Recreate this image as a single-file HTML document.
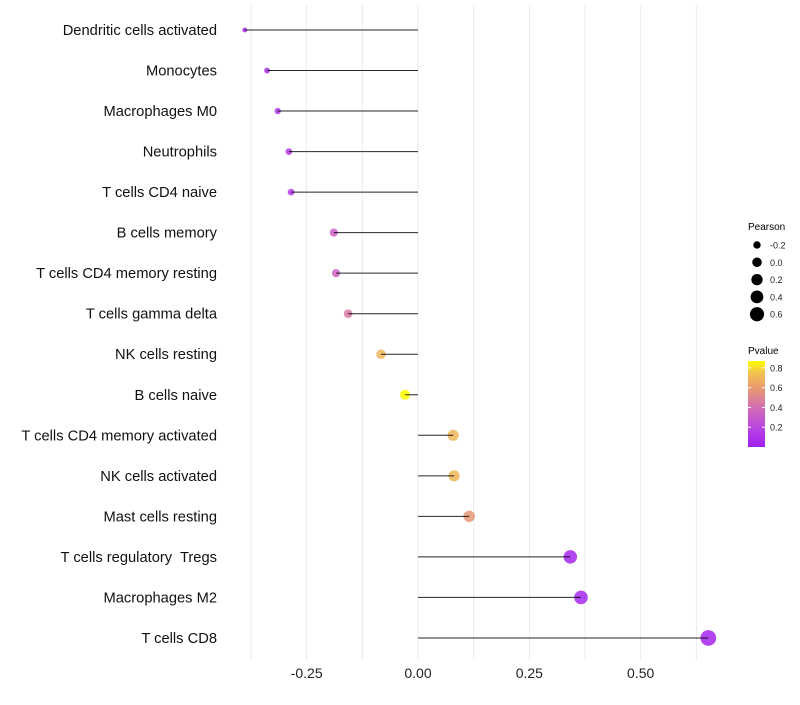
<!DOCTYPE html>
<html><head><meta charset="utf-8"><style>
body{margin:0;background:#fff;font-family:"Liberation Sans",Arial,sans-serif}
svg text{font-family:"Liberation Sans",Arial,sans-serif;white-space:pre}
</style></head><body>
<svg id="c" width="800" height="700"></svg>
<script>
const categories=["Dendritic cells activated","Monocytes","Macrophages M0","Neutrophils","T cells CD4 naive","B cells memory","T cells CD4 memory resting","T cells gamma delta","NK cells resting","B cells naive","T cells CD4 memory activated","NK cells activated","Mast cells resting","T cells regulatory  Tregs","Macrophages M2","T cells CD8"];
const pearson=[-0.389,-0.339,-0.315,-0.29,-0.285,-0.189,-0.184,-0.157,-0.083,-0.029,0.079,0.081,0.115,0.342,0.366,0.652];
const pvalues=[0.1,0.1,0.12,0.15,0.15,0.33,0.35,0.45,0.7,0.88,0.7,0.7,0.58,0.03,0.04,0.02];
const xTicks=[-0.25,0,0.25,0.5];
const xTickLabels=["-0.25","0.00","0.25","0.50"];
const sizeLegend=[-0.2,0,0.2,0.4,0.6];
const colorLegend=[0.2,0.4,0.6,0.8];
const NS="http://www.w3.org/2000/svg";
const svg=document.getElementById('c');
const x=v=>418+v*445.3;
const y=i=>30+i*40.53;
const vmin=Math.min(...pearson),vmax=Math.max(...pearson);
const r=v=>{const t=Math.max(0,(v-vmin)/(vmax-vmin));return Math.sqrt(6+56*t);};
const stops=[[0,[160,32,240]],[0.2,[185,70,225]],[0.4,[212,110,180]],[0.6,[232,155,110]],[0.75,[242,195,80]],[0.87,[255,255,0]]];
function col(p){p=Math.max(0,Math.min(0.87,p));for(let i=1;i<stops.length;i++){if(p<=stops[i][0]){const a=stops[i-1],b=stops[i];const t=(p-a[0])/(b[0]-a[0]);const c=a[1].map((v,k)=>Math.round(v+(b[1][k]-v)*t));return `rgb(${c[0]},${c[1]},${c[2]})`;}}return 'rgb(255,255,0)';}
function mk(tag,attrs,parent){const e=document.createElementNS(NS,tag);for(const k in attrs)e.setAttribute(k,attrs[k]);(parent||svg).appendChild(e);return e;}
for(let g=-0.375;g<=0.7;g+=0.125){const l=mk('line',{x1:x(g),x2:x(g),y1:5,y2:660,stroke:'#ebebeb','stroke-width':1});

}
xTicks.forEach((t,i)=>{const e=mk('text',{x:x(t),y:678,'text-anchor':'middle','font-size':14,fill:'#222'});e.textContent=xTickLabels[i];

});
categories.forEach((c,i)=>{
const t=mk('text',{x:217,y:y(i)+5,'text-anchor':'end','font-size':14.7,fill:'#111'});t.textContent=c;


const p=mk('circle',{cx:x(pearson[i]),cy:y(i),r:r(pearson[i]),fill:col(pvalues[i]),'fill-opacity':0.85});


const l=mk('line',{x1:x(0),x2:x(pearson[i]),y1:y(i),y2:y(i),stroke:'#000','stroke-width':1,'stroke-opacity':0.85});


});
const lt=mk('text',{x:748,y:230,'font-size':10,fill:'#000'});lt.textContent='Pearson';


sizeLegend.forEach((v,i)=>{const cy=245+i*17.3;
const c=mk('circle',{cx:757,cy:cy,r:r(v)*0.92,fill:'#000'});


const t=mk('text',{x:770,y:cy+3.5,'font-size':9,fill:'#222'});t.textContent=v.toFixed(1);

});
const pt=mk('text',{x:748,y:354,'font-size':10,fill:'#000'});pt.textContent='Pvalue';


const defs=mk('defs',{});const gr=mk('linearGradient',{id:'g',x1:0,y1:1,x2:0,y2:0},defs);
stops.forEach(s=>mk('stop',{offset:s[0]/0.87,'stop-color':col(s[0])},gr));
const bar=mk('rect',{x:748,y:361,width:17,height:86,fill:'url(#g)'});


colorLegend.forEach(v=>{const cy=447-v/0.87*86;
mk('line',{x1:748,x2:751,y1:cy,y2:cy,stroke:'#fff'});mk('line',{x1:762,x2:765,y1:cy,y2:cy,stroke:'#fff'});
const t=mk('text',{x:770,y:cy+3.5,'font-size':9,fill:'#222'});t.textContent=v.toFixed(1);

});
</script>
</body></html>
